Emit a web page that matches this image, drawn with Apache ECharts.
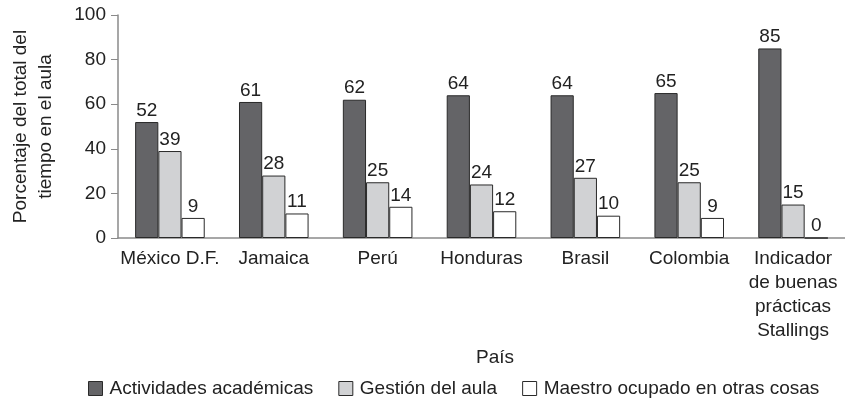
<!DOCTYPE html>
<html><head><meta charset="utf-8">
<script src="https://cdn.jsdelivr.net/npm/echarts@6/dist/echarts.min.js"></script>
<style>html,body{margin:0;padding:0;background:#fff}#c{width:845px;height:401px}</style>
</head><body><div id="c"></div>
<script>
const categories = ['México D.F.', 'Jamaica', 'Perú', 'Honduras', 'Brasil', 'Colombia', 'Indicador\nde buenas\nprácticas\nStallings'];
const seriesNames = ['Actividades académicas', 'Gestión del aula', 'Maestro ocupado en otras cosas'];
const academicas = [52, 61, 62, 64, 64, 65, 85];
const gestion = [39, 28, 25, 24, 27, 25, 15];
const otras = [9, 11, 14, 12, 10, 9, 0];
const yTicks = [0, 20, 40, 60, 80, 100];

const FONT = '"Liberation Sans", Arial, sans-serif';
const FS = 19;
const colors = ['#646467', '#d1d2d4', '#ffffff'];
const chart = echarts.init(document.getElementById('c'));
const mk = (name, data, i) => ({
  name, type: 'bar', data, barGap: '0%', barCategoryGap: '33%',
  itemStyle: { color: colors[i], borderColor: '#2a2a2a', borderWidth: 1 },
  label: { show: true, position: 'top', distance: 2, color: '#222', fontSize: FS, fontFamily: FONT },
  animation: false
});
chart.setOption({
  animation: false,
  textStyle: { fontFamily: FONT },
  grid: { left: 114, right: -2, top: 15, bottom: 163, containLabel: false },
  legend: {
    bottom: -2, left: 83, itemWidth: 14, itemHeight: 14, itemGap: 25,
    icon: 'rect',
    textStyle: { fontSize: FS, color: '#222', fontFamily: FONT, padding: [0, 0, 0, 2] },
    itemStyle: { borderColor: '#2a2a2a', borderWidth: 1 },
    data: seriesNames
  },
  xAxis: {
    type: 'category', data: categories,
    name: 'País', nameLocation: 'middle', nameGap: 98,
    nameTextStyle: { fontSize: FS, color: '#222', fontFamily: FONT, padding: [0, 0, 0, 27] },
    axisLine: { lineStyle: { color: '#8a8a8a', width: 1.5 } },
    axisTick: { show: false },
    axisLabel: { fontSize: FS, color: '#222', fontFamily: FONT, lineHeight: 24, margin: 9, interval: 0 }
  },
  yAxis: {
    type: 'value', min: 0, max: 100, interval: 20,
    name: 'Porcentaje del total del\ntiempo en el aula', nameLocation: 'middle', nameGap: 60,
    nameRotate: 90,
    nameTextStyle: { fontSize: FS, color: '#222', fontFamily: FONT, lineHeight: 25 },
    axisLine: { show: true, lineStyle: { color: '#8a8a8a', width: 1.5 } },
    axisTick: { show: true, length: 7, lineStyle: { color: '#8a8a8a' } },
    splitLine: { show: false },
    axisLabel: { fontSize: FS, color: '#222', fontFamily: FONT, margin: 12,
      formatter: v => yTicks.includes(v) ? String(v) : '' }
  },
  series: [mk(seriesNames[0], academicas, 0), mk(seriesNames[1], gestion, 1), mk(seriesNames[2], otras, 2)]
});
</script></body></html>
